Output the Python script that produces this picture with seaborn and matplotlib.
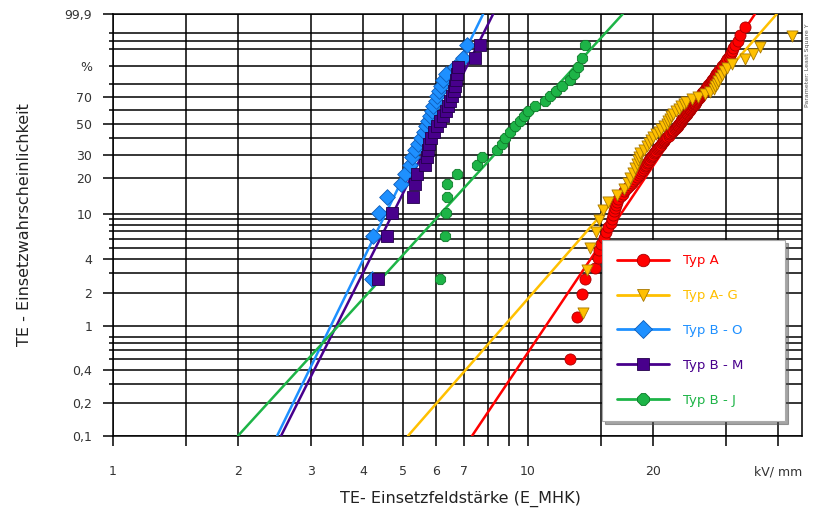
import numpy as np
import pandas as pd
import matplotlib
matplotlib.use("Agg")
import matplotlib.pyplot as plt
from matplotlib.lines import Line2D
import seaborn as sns

# ---- data: breakdown onset field strengths in kV/mm, sorted ascending per type ----
series = ["Typ A", "Typ A- G", "Typ B - O", "Typ B - M", "Typ B - J"]
colors = ["#FF0000", "#FFC000", "#1E90FF", "#48008C", "#1DB447"]
edge_colors = ["#A80000", "#A87800", "#0E5CB8", "#22004A", "#0E7A2A"]
markers = ["o", "v", "D", "s", "8"]

typ_a = [12.6, 13.1, 13.5, 13.7, 14.5, 14.7, 14.8, 15.0, 15.2, 15.4, 15.6, 15.8, 15.9,
         16.0, 16.1, 16.2, 16.3, 16.4, 16.5,
         16.7, 16.9, 17.0, 17.2, 17.4, 17.6,
         17.8, 17.9, 18.1, 18.3, 18.5, 18.6,
         18.7, 18.9, 19.0, 19.1, 19.2, 19.35,
         19.5, 19.6, 19.7, 19.8, 19.9, 20.0, 20.1, 20.2, 20.35, 20.46,
         20.6, 20.7, 20.8, 20.9, 21.0, 21.1, 21.2, 21.3, 21.4, 21.5, 21.6,
         21.8, 21.9, 22.0, 22.2, 22.3, 22.4, 22.6, 22.7, 22.9,
         22.95, 23.0, 23.1, 23.2, 23.3, 23.4, 23.5, 23.55, 23.6, 23.7, 23.8, 23.9, 24.0, 24.1, 24.2,
         24.3, 24.4, 24.5, 24.6, 24.7, 24.8, 24.9, 25.0, 25.1, 25.2, 25.3, 25.4, 25.45, 25.55,
         25.7, 25.8, 25.9, 26.0, 26.1, 26.2, 26.3, 26.4, 26.5, 26.7, 26.8, 26.9, 27.0,
         27.1, 27.2, 27.4, 27.5, 27.6, 27.7, 27.8, 27.9, 28.1, 28.2, 28.3, 28.4, 28.5,
         28.7, 28.9, 29.1, 29.3, 29.4, 29.6, 29.8, 30.0, 30.2,
         30.4, 30.6, 30.8, 31.0, 31.2,
         31.6, 32.0, 32.4,
         33.3]

typ_a_g = [13.57, 13.88, 14.11, 14.59, 14.83, 15.16, 15.59, 16.39, 17.03, 17.42,
           17.61, 17.91, 18.11, 18.31, 18.41, 18.51, 18.62, 19.03, 19.35, 19.57,
           19.79, 20.01, 20.35, 20.69, 20.92, 21.27, 21.62, 21.74, 21.99, 22.11,
           22.36, 22.73, 23.12, 23.37, 23.76, 24.03, 24.85, 25.68, 26.70, 27.45,
           28.07, 28.23, 28.54, 28.70, 29.02, 29.34, 29.67, 30.17, 31.01, 33.34,
           34.85, 36.22, 43.26]

typ_b_o = [4.21, 4.23, 4.38, 4.57, 4.94, 5.05, 5.20, 5.25, 5.34, 5.43, 5.52, 5.62, 5.68,
           5.74, 5.81, 5.87, 5.90, 6.00, 6.04, 6.10, 6.17, 6.24, 6.35, 6.67, 6.97, 7.13]

typ_b_m = [4.35, 4.57, 4.70, 5.28, 5.34, 5.40, 5.65, 5.71, 5.74, 5.77, 5.84, 5.94, 6.04,
           6.14, 6.24, 6.35, 6.42, 6.49, 6.56, 6.63, 6.67, 6.71, 6.74, 6.78, 7.45, 7.66]

typ_b_j = [6.14, 6.31, 6.35, 6.37, 6.38, 6.74, 7.53, 7.75, 8.42, 8.66, 8.80, 9.05, 9.31,
           9.57, 9.78, 10.0, 10.4, 11.0, 11.3, 11.68, 12.1, 12.6, 12.9, 13.2, 13.5, 13.7]

# Weibull fit per type (least squares): shape beta, scale eta in kV/mm
fit_shape = [5.63, 4.32, 7.73, 7.51, 4.14]
fit_scale = [24.98, 25.4, 6.07, 6.37, 10.6]

# probability grid and axis labels
y_grid = [0.1, 0.2, 0.3, 0.4, 0.5, 0.6, 0.7, 0.8, 1, 2, 3, 4, 5, 6, 7, 8, 9, 10,
          20, 30, 40, 50, 60, 70, 80, 90, 96.5, 98, 99, 99.9]
y_labels = {0.1: "0,1", 0.2: "0,2", 0.4: "0,4", 1: "1", 2: "2", 4: "4", 10: "10",
            20: "20", 30: "30", 50: "50", 70: "70", 90: "%", 99.9: "99,9"}
y_long = [0.1, 0.2, 0.4, 1, 2, 4, 10, 20, 30, 50, 70, 99.9]
x_grid = [1, 1.5, 2, 3, 4, 5, 6, 7, 8, 9, 10, 15, 20, 30, 40]
x_labels = {1: "1", 2: "2", 3: "3", 4: "4", 5: "5", 6: "6", 7: "7", 10: "10",
            20: "20", 40: "kV/ mm"}

all_values = [typ_a, typ_a_g, typ_b_o, typ_b_m, typ_b_j]

# ---- build tidy frame with median-rank plotting positions ----
frames = []
for name, vals in zip(series, all_values):
    v = np.asarray(vals, dtype=float)
    n = len(v)
    ranks = np.arange(1, n + 1)
    frames.append(pd.DataFrame({"E": v, "F": 100 * (ranks - 0.3) / (n + 0.4), "Typ": name}))
df = pd.concat(frames, ignore_index=True)


def weibull_fwd(p):
    p = np.clip(np.asarray(p, dtype=float), 1e-7, 100 - 1e-7)
    return np.log(-np.log(1 - p / 100.0))


def weibull_inv(w):
    return 100.0 * (1 - np.exp(-np.exp(np.asarray(w, dtype=float))))


sns.set_theme(style="white")
plt.rcParams["font.family"] = ["DejaVu Sans"]

fig = plt.figure(figsize=(8.14, 5.15), dpi=100)
ax = fig.add_axes([113 / 814, 1 - 436 / 515, 689 / 814, 422 / 515])

ax.set_xscale("log")
ax.set_yscale("function", functions=(weibull_fwd, weibull_inv))

# fitted Weibull lines
p_line = np.linspace(0.1, 99.9, 400)
for name, col, b, eta in zip(series, colors, fit_shape, fit_scale):
    x_line = eta * (-np.log(1 - p_line / 100.0)) ** (1.0 / b)
    sns.lineplot(x=x_line, y=p_line, color=col, lw=1.8, sort=False, estimator=None,
                 ax=ax, zorder=3)

# measured points
for name, col, ec, mk in zip(series, colors, edge_colors, markers):
    sub = df[df["Typ"] == name]
    sns.scatterplot(data=sub, x="E", y="F", color=col, marker=mk, s=64,
                    edgecolor=ec, linewidth=0.6, ax=ax, zorder=4, legend=False)

ax.set_xlim(1, 45.7)
ax.set_ylim(0.1, 99.9)

# ticks + grid
ax.set_yticks(y_grid)
ax.set_yticklabels([y_labels.get(v, "") for v in y_grid])
ax.set_xticks(x_grid)
ax.set_xticklabels([x_labels.get(v, "") for v in x_grid])
ax.xaxis.set_minor_locator(matplotlib.ticker.NullLocator())
ax.yaxis.set_minor_locator(matplotlib.ticker.NullLocator())

ax.tick_params(axis="y", direction="out", length=7, width=1.1, color="black",
               pad=8, labelsize=9, labelcolor="#333333", left=True)
ax.tick_params(axis="x", direction="out", length=7, width=1.1, color="black",
               pad=14, labelsize=9, labelcolor="#333333", bottom=True)
for v, t in zip(y_grid, ax.yaxis.get_major_ticks()):
    if v not in y_long:
        t.tick1line.set_markersize(3)

ax.grid(True, which="major", color="black", lw=1.1)
for s in ax.spines.values():
    s.set_color("black")
    s.set_linewidth(1.1)
ax.set_axisbelow(True)

ax.set_xlabel("TE- Einsetzfeldstärke (E_MHK)", fontsize=11.5, color="#222222")
ax.set_ylabel("TE - Einsetzwahrscheinlichkeit", fontsize=11.5, color="#222222")
ax.xaxis.set_label_coords(0.504, -0.13)
ax.yaxis.set_label_coords(-0.118, 0.5)

fig.text(808 / 814, 1 - 65 / 515, "Parameter: Least Square Y", rotation=90,
         fontsize=4.5, color="#555555", ha="center", va="center")

# legend, stretched to its box width
handles = [Line2D([], [], color=c, lw=2, marker=m, markersize=9,
                  markerfacecolor=c, markeredgecolor=ec, markeredgewidth=0.6)
           for c, ec, m in zip(colors, edge_colors, markers)]
leg = ax.legend(handles, series, loc="upper left",
                bbox_to_anchor=(0.710, 0.0427, 0.266, 0.4218), mode="expand",
                frameon=True, shadow=True, fancybox=False, fontsize=9.5,
                handlelength=4.0, handletextpad=1.0, labelspacing=1.65,
                borderpad=1.1, borderaxespad=0)
leg.get_frame().set_edgecolor("#AAAAAA")
leg.get_frame().set_linewidth(0.8)
leg.get_frame().set_facecolor("white")
leg.get_frame().set_alpha(1)
leg.set_zorder(10)
for t, c in zip(leg.get_texts(), colors):
    t.set_color(c)

fig.savefig("out.png", dpi=100)
